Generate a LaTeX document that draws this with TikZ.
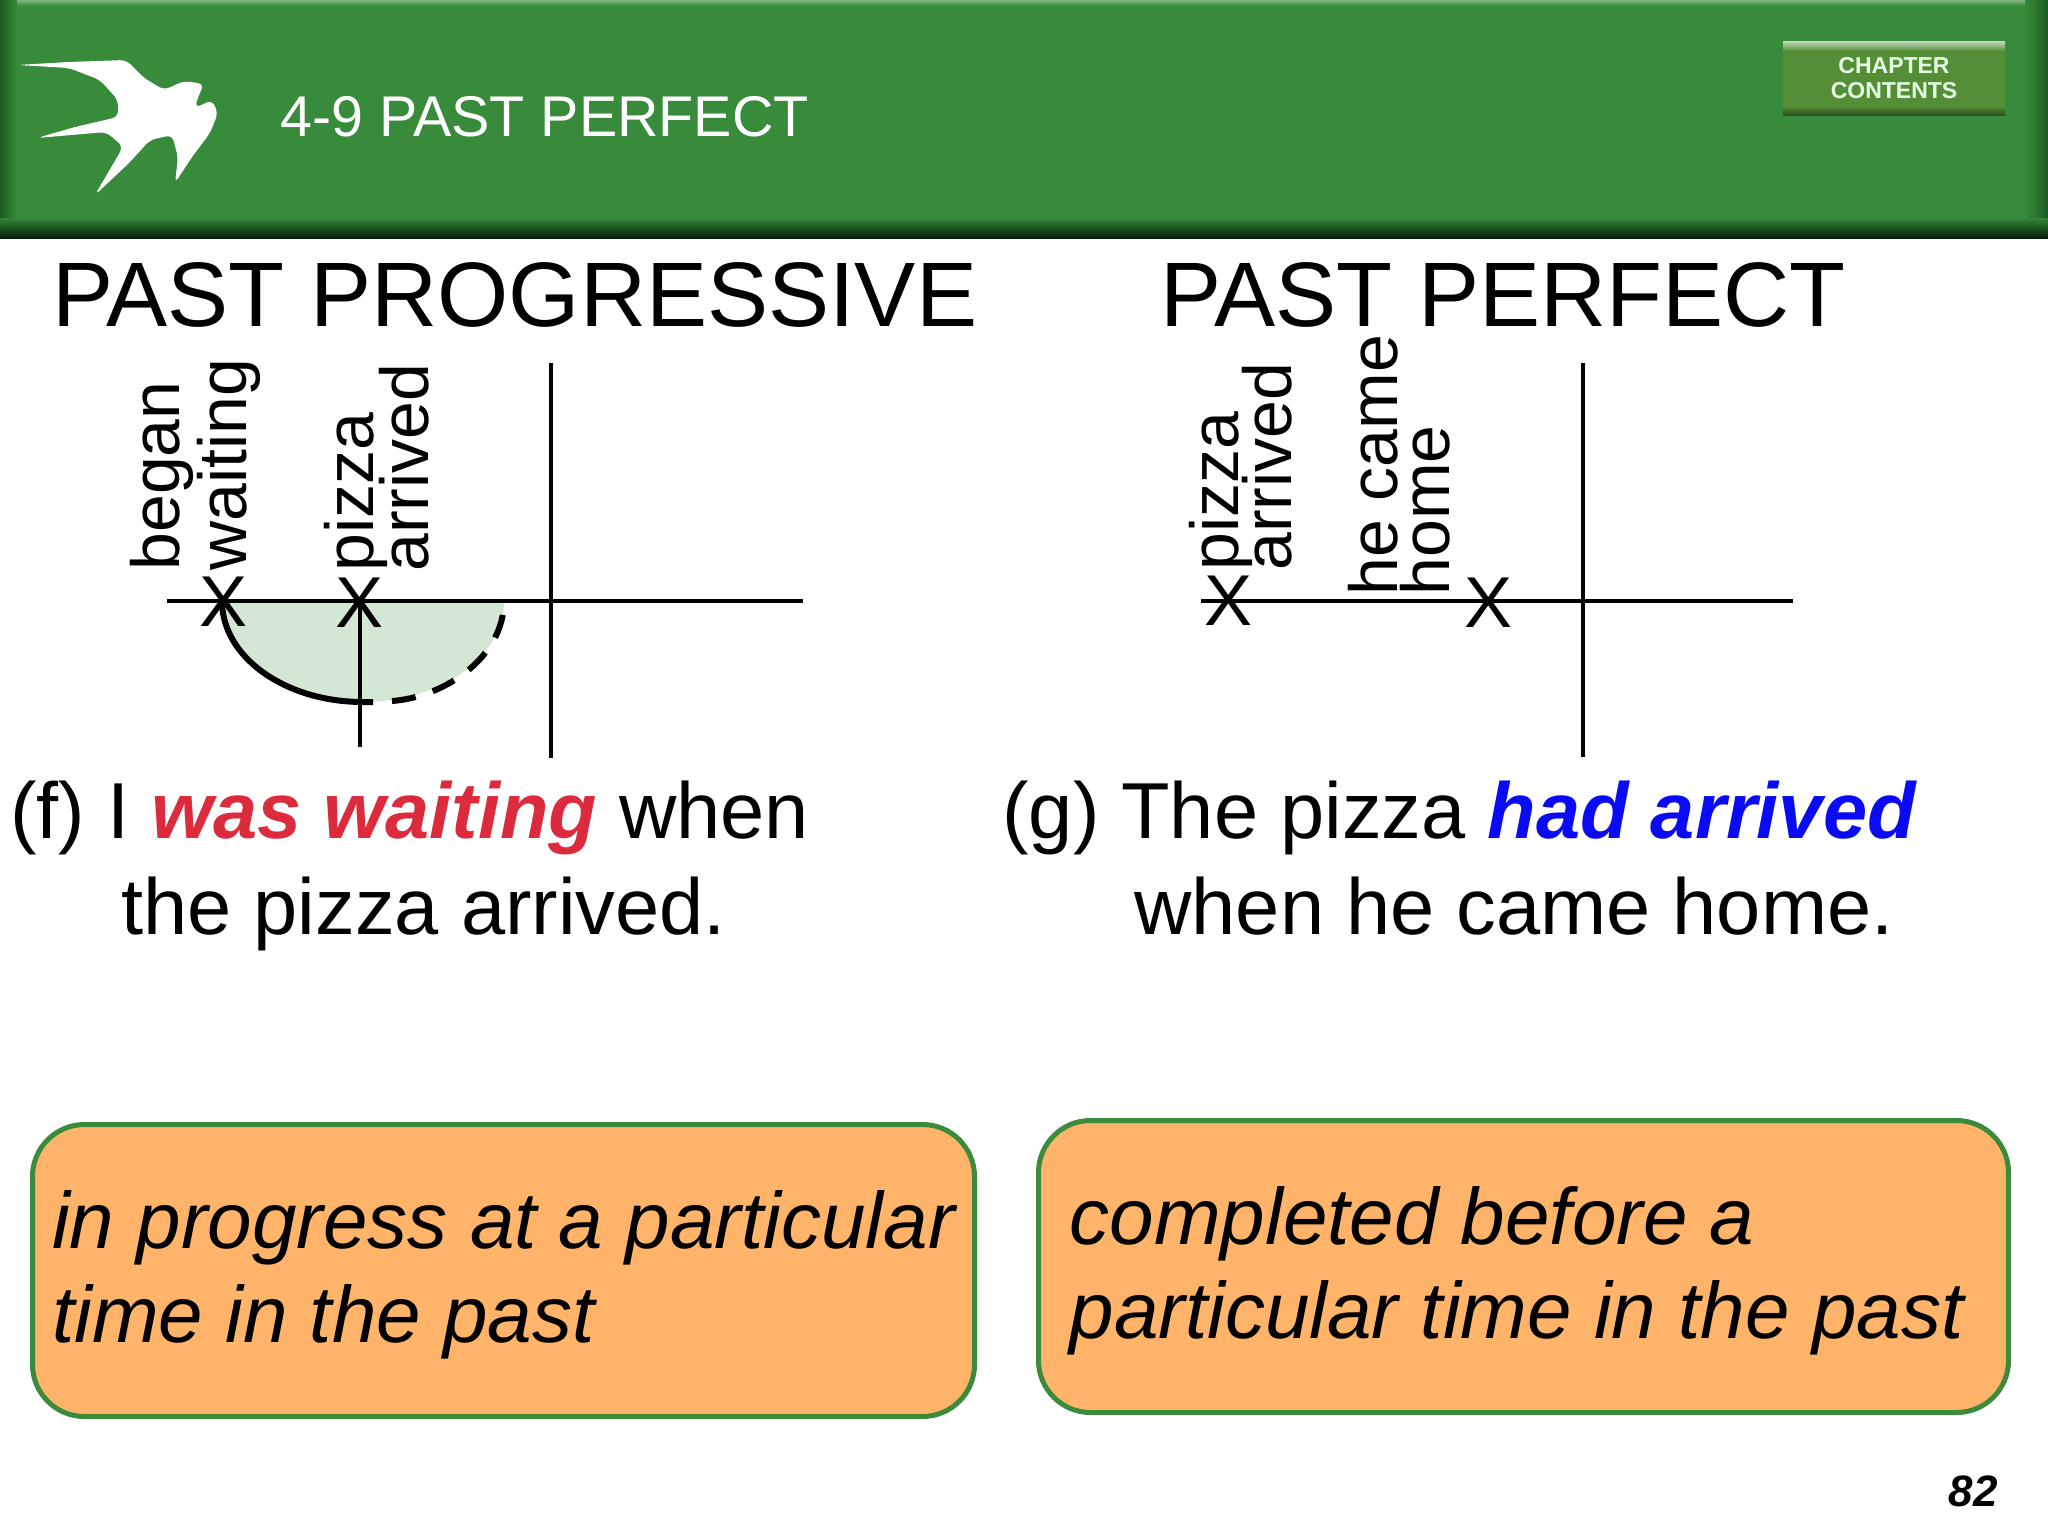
\documentclass[tikz,border=0pt]{standalone}
\usepackage{fontspec}
\setmainfont{Liberation Sans}
\definecolor{bandgreen}{HTML}{378B3A}
\definecolor{banddark}{HTML}{041C06}
\definecolor{bandedge}{HTML}{1B5A22}
\definecolor{btngreen}{HTML}{548F38}
\definecolor{waitgreen}{HTML}{D4E6D4}
\definecolor{boxorange}{HTML}{FFB469}
\definecolor{boxline}{HTML}{3B8B3B}
\definecolor{wasred}{HTML}{DC2B3D}
\definecolor{hadblue}{HTML}{0A0AF5}
\tikzset{
  axisline/.style={line width=2.2pt},
  timecurve/.style={line width=3pt},
  heading/.style={anchor=base west,inner sep=0pt,font=\fontsize{45.8}{50}\selectfont},
  sentence/.style={anchor=base west,inner sep=0pt,font=\fontsize{39.7}{44}\selectfont},
  crossmark/.style={inner sep=0pt,font=\fontsize{36}{36}\selectfont},
  turnlabel/.style={rotate=90,align=left,anchor=south west,inner sep=0pt,
    font=\fontsize{34}{#1}\selectfont,
    execute at begin node={\setlength{\lineskiplimit}{-100pt}}},
  notebox/.style={draw=boxline,line width=2.5pt,fill=boxorange,rounded corners=26pt,
    align=left,minimum height=146pt,
    font=\fontsize{40}{47}\selectfont\itshape},
}
\begin{document}
\begin{tikzpicture}[x=0.5pt,y=-0.5pt]
  \useasboundingbox (0,0) rectangle (2048,1536);
  % header band
  \fill[bandgreen] (0,0) rectangle (2048,238);
  \shade[top color=bandgreen,bottom color=banddark] (0,217) rectangle (2048,238);
  \shade[left color=bandedge,right color=bandgreen] (0,0) rectangle (17,217);
  \shade[left color=bandgreen,right color=bandedge] (2025,0) rectangle (2048,217);
  \shade[top color=bandgreen!65!white,bottom color=bandgreen] (17,0) rectangle (2025,6);
  % swallow
  \fill[white,rounded corners=3pt] (17,65) -- (69,62) -- (126,60) -- (144,78) -- (164,90)
    -- (184,81) -- (204,84) -- (198,97) -- (195,108) -- (212,100) -- (218,113) -- (210,133)
    -- (192,157) -- (175,183) -- (178,157) -- (172,135) -- (150,140) -- (129,163) -- (95,195)
    -- (123,147) -- (118,142) -- (106,132) -- (37,138) -- (75,127) -- (118,117) -- (118,100)
    -- (100,80) -- (69,68) -- cycle;
  \node[anchor=base west,inner sep=0pt,text=white,font=\fontsize{28.7}{32}\selectfont] (title) at (280,136) {4-9 PAST PERFECT};
  % contents button
  \fill[btngreen] (1783,42) rectangle (2005,116);
  \shade[top color=btngreen!40!white,bottom color=btngreen] (1783,42) rectangle (2005,51);
  \shade[top color=btngreen,bottom color=btngreen!50!black] (1783,106) rectangle (2005,116);
  \node[align=center,inner sep=0pt,text=green!10!white,font=\fontsize{11.5}{12.5}\selectfont\bfseries] (contents) at (1894,78) {CHAPTER\\CONTENTS};

  \node[heading] (progtitle) at (52,326) {PAST PROGRESSIVE};
  \node[heading] (perftitle) at (1160,326) {PAST PERFECT};

  % left diagram
  \fill[waitgreen] (222,601) .. controls (222,657) and (285,702) .. (363,702)
    .. controls (441,702) and (504,657) .. (504,601) -- cycle;
  \draw[axisline] (167,601)--(803,601);
  \draw[axisline] (551,363)--(551,758);
  \draw[axisline] (360,601)--(360,747);
  \draw[timecurve] (222,601) .. controls (222,657) and (285,702) .. (363,702) -- (373,702);
  \draw[timecurve,dash pattern=on 12pt off 9pt] (392,701) .. controls (445,697) and (504,657) .. (504,601);
  \node[crossmark] (beganx) at (224,602) {X};
  \node[crossmark] (pizzax) at (360,603) {X};
  \node[turnlabel=33.5pt] (began) at (261,571) {began\\waiting};
  \node[turnlabel=27.5pt] (pizzaleft) at (430,572) {pizza\\arrived};

  % right diagram
  \draw[axisline] (1201,601)--(1793,601);
  \draw[axisline] (1583,363)--(1583,757);
  \node[crossmark] (pizzarx) at (1228,601) {X};
  \node[crossmark] (camex) at (1488,603) {X};
  \node[turnlabel=26.5pt] (pizzaright) at (1293,571) {pizza\\arrived};
  \node[turnlabel=26pt] (came) at (1451,596) {he came\\home};

  % sentences
  \node[sentence] (fone) at (10,838) {(f) I \textcolor{wasred}{\bfseries\itshape was waiting} when};
  \node[sentence] (ftwo) at (121,934) {the pizza arrived.};
  \node[sentence] (gone) at (1002,838) {(g) The pizza \textcolor{hadblue}{\bfseries\itshape had arrived}};
  \node[sentence] (gtwo) at (1134,934) {when he came home.};

  % orange boxes
  \node[notebox,anchor=north west,minimum width=471pt] (progbox) at (30,1122) {\rule{0pt}{33pt}in progress at a particular\\time in the past};
  \node[notebox,anchor=north west,minimum width=485pt] (perfbox) at (1036,1118) {\rule{0pt}{33pt}completed before a\\particular time in the past\hspace*{7pt}};

  \node[anchor=base east,inner sep=0pt,font=\fontsize{22}{24}\selectfont\bfseries\itshape] (pageno) at (1998,1506) {82};
\end{tikzpicture}
\end{document}
